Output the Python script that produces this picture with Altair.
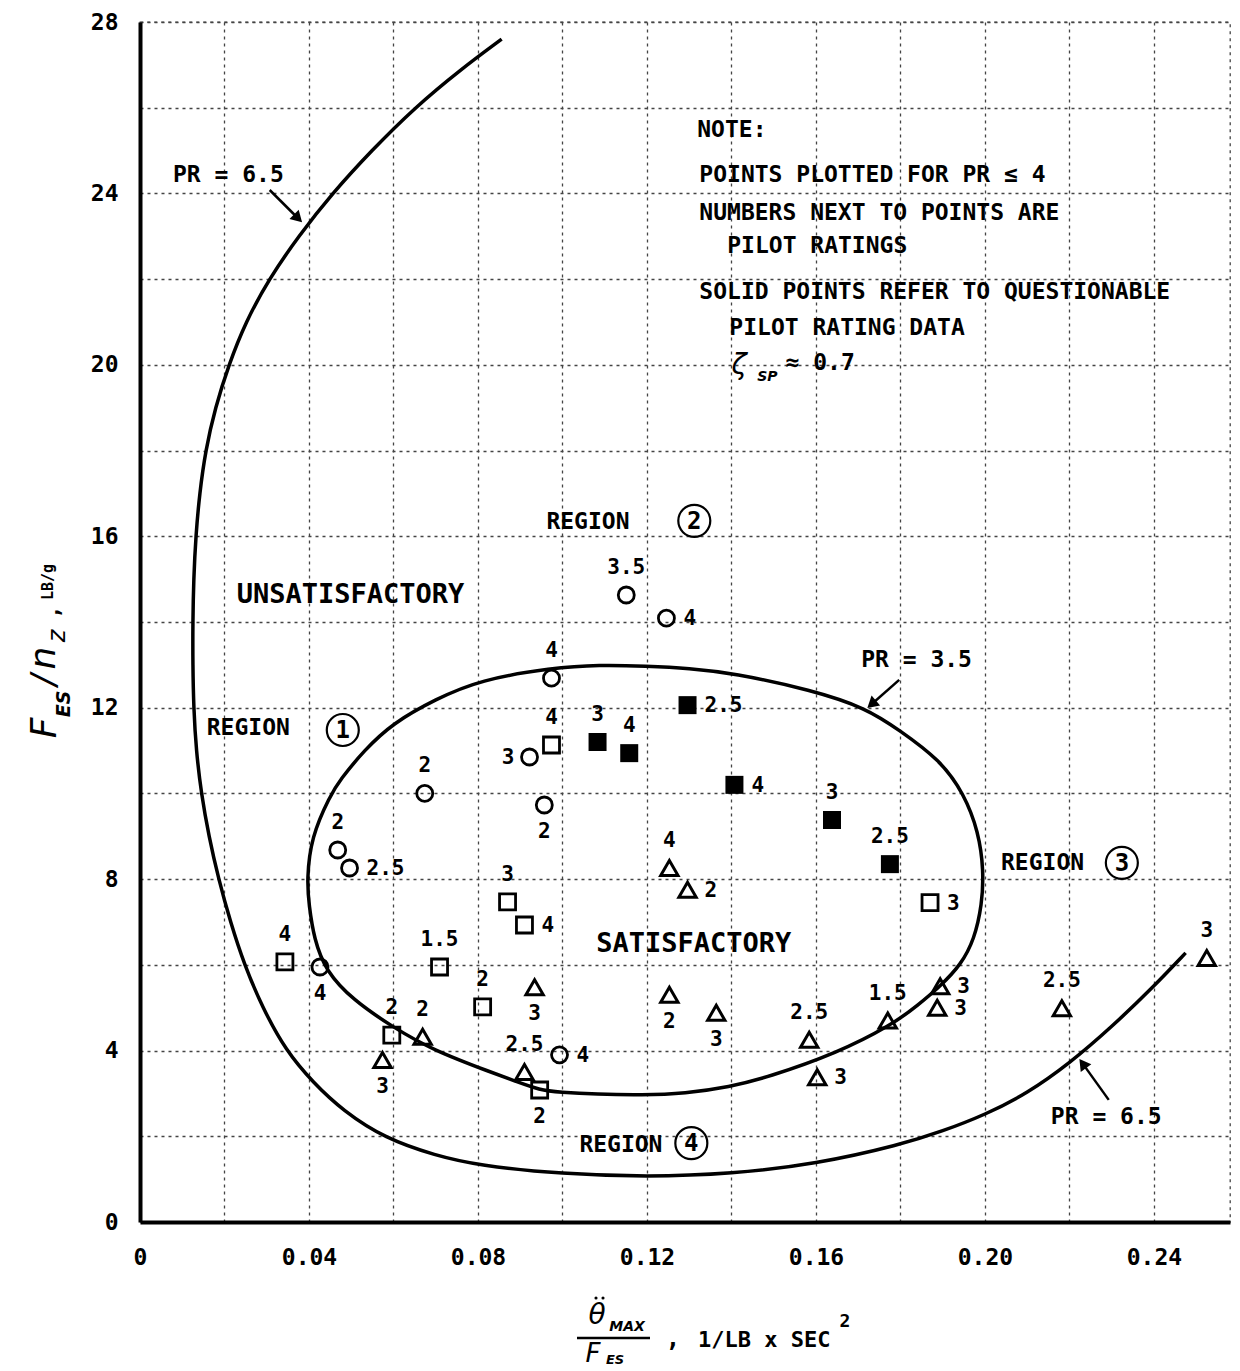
import altair as alt
import pandas as pd

MONO = "DejaVu Sans Mono"
SANS = "DejaVu Sans"

# ---------------- boundary curves ----------------
# outer boundary, PR = 6.5 (open curve, from top end to lower-right end)
outer_x = [0.0856, 0.0760, 0.0650, 0.0548, 0.0455, 0.0375, 0.0305, 0.0250, 0.0210, 0.0178,
           0.0155, 0.0141, 0.0132, 0.0127, 0.0125, 0.0125, 0.0127, 0.0133, 0.0145, 0.0163,
           0.0186, 0.0214, 0.0247, 0.0290, 0.0345, 0.0410, 0.0480, 0.0580, 0.0700, 0.0800,
           0.1000, 0.1200, 0.1400, 0.1600, 0.1800, 0.1900, 0.2000, 0.2100, 0.2200, 0.2300,
           0.2400, 0.2475]
outer_y = [27.6, 26.9, 26.0, 25.0, 24.0, 23.0, 22.0, 21.0, 20.0, 19.0,
           18.0, 17.0, 16.0, 15.0, 14.0, 13.0, 12.0, 11.0, 10.0, 9.0,
           8.0, 7.0, 6.0, 5.0, 4.0, 3.25, 2.6, 1.95, 1.55, 1.32,
           1.12, 1.05, 1.12, 1.35, 1.8, 2.12, 2.5, 3.0, 3.7, 4.55,
           5.5, 6.28]

# inner boundary, PR = 3.5 (closed curve)
inner_x = [0.0395, 0.0405, 0.0450, 0.0473, 0.0530, 0.0598, 0.0700, 0.0804, 0.0976, 0.1087,
           0.1199, 0.1300, 0.1402, 0.1591, 0.1719, 0.1797, 0.1894, 0.1950, 0.1985, 0.1997,
           0.1993, 0.1975, 0.1943, 0.1894, 0.1840, 0.1780, 0.1650, 0.1487, 0.1395, 0.1290,
           0.1189, 0.1080, 0.0993, 0.0946, 0.0890, 0.0835, 0.0693, 0.0598, 0.0504, 0.0440,
           0.0412, 0.0400]
inner_y = [7.98, 8.98, 9.95, 10.31, 11.0, 11.64, 12.2, 12.65, 12.93, 13.0,
           12.97, 12.92, 12.81, 12.41, 11.99, 11.48, 10.78, 10.0, 9.1, 8.2,
           7.4, 6.6, 6.0, 5.5, 5.05, 4.6, 3.94, 3.38, 3.15, 3.0,
           2.96, 2.98, 3.03, 3.08, 3.28, 3.48, 4.01, 4.55, 5.18, 5.85,
           6.6, 7.4]

# ---------------- data points ----------------
circ_x = [0.0468, 0.0496, 0.0674, 0.0922, 0.0957, 0.0974, 0.1151, 0.1246, 0.0426, 0.0993]
circ_y = [8.68, 8.26, 10.0, 10.85, 9.73, 12.69, 14.63, 14.09, 5.95, 3.90]
circ_pr = ["2", "2.5", "2", "3", "2", "4", "3.5", "4", "4", "4"]
circ_side = ["above", "right", "above", "left", "below", "above", "above", "right", "below", "right"]

sq_x = [0.0343, 0.0709, 0.0596, 0.0811, 0.0870, 0.0910, 0.0974, 0.0946, 0.1870]
sq_y = [6.07, 5.95, 4.36, 5.02, 7.47, 6.93, 11.13, 3.08, 7.45]
sq_pr = ["4", "1.5", "2", "2", "3", "4", "4", "2", "3"]
sq_side = ["above", "above", "above", "above", "above", "right", "above", "below", "right"]

sqf_x = [0.1083, 0.1158, 0.1296, 0.1407, 0.1638, 0.1775]
sqf_y = [11.2, 10.94, 12.06, 10.2, 9.38, 8.35]
sqf_pr = ["3", "4", "2.5", "4", "3", "2.5"]
sqf_side = ["above", "above", "right", "right", "above", "above"]

tri_x = [0.0574, 0.0669, 0.0934, 0.0910, 0.1253, 0.1296, 0.1253, 0.1364, 0.1584, 0.1603,
         0.1770, 0.1894, 0.1887, 0.2182, 0.2525]
tri_y = [3.78, 4.32, 5.48, 3.50, 8.26, 7.75, 5.30, 4.88, 4.25, 3.38,
         4.70, 5.50, 5.00, 4.99, 6.16]
tri_pr = ["3", "2", "3", "2.5", "4", "2", "2", "3", "2.5", "3",
          "1.5", "3", "3", "2.5", "3"]
tri_side = ["below", "above", "below", "above", "above", "right", "below", "below", "above", "right",
            "above", "right", "right", "above", "above"]

# ---------------- annotations ----------------
note_text = ["NOTE:", "POINTS PLOTTED FOR PR \u2264 4", "NUMBERS NEXT TO POINTS ARE",
             "PILOT RATINGS", "SOLID POINTS REFER TO QUESTIONABLE", "PILOT RATING DATA"]
note_x = [0.1319, 0.1324, 0.1324, 0.1390, 0.1324, 0.1395]
note_y = [25.48, 24.43, 23.54, 22.77, 21.70, 20.86]

region_word_x = [0.0158, 0.0962, 0.2038, 0.1040]
region_word_y = [11.53, 16.33, 8.38, 1.80]
region_num = ["1", "2", "3", "4"]
region_num_x = [0.0480, 0.1312, 0.2324, 0.1305]
region_num_y = [11.48, 16.36, 8.38, 1.84]

big_text = ["UNSATISFACTORY", "SATISFACTORY"]
big_x = [0.0229, 0.1080]
big_y = [14.63, 6.49]

pr_text = ["PR = 6.5", "PR = 3.5", "PR = 6.5"]
pr_x = [0.0078, 0.1707, 0.2156]
pr_y = [24.43, 13.11, 2.45]

arrow_tail_x = [0.0307, 0.1797, 0.2293]
arrow_tail_y = [24.08, 12.65, 2.85]
arrow_head_x = [0.0371, 0.1735, 0.2234]
arrow_head_y = [23.45, 12.11, 3.66]
arrow_angle = [135, 229, 324]

XMAX = 0.258
x_scale = alt.Scale(domain=[0, XMAX], nice=False, zero=False)
y_scale = alt.Scale(domain=[0, 28], nice=False, zero=False)
x_ticks = [round(0.02 * i, 2) for i in range(13)]
y_ticks = list(range(0, 29, 2))

x_axis = alt.Axis(
    title=None, values=x_ticks, grid=True, ticks=False, labelFlush=False, labelOverlap=False,
    labelPadding=24,
    labelExpr="datum.value < 1e-9 ? '0' : (round(datum.value*100) % 4 == 0 ? format(datum.value, '.2f') : '')",
)
y_axis = alt.Axis(
    title=None, values=y_ticks, grid=True, ticks=False, labelOverlap=False, labelPadding=22,
    labelExpr="datum.value % 4 == 0 ? datum.label : ''",
)

# ---------------- build layers ----------------
outer_df = pd.DataFrame({"x": outer_x, "y": outer_y, "i": range(len(outer_x))})
inner_df = pd.DataFrame({"x": inner_x, "y": inner_y, "i": range(len(inner_x))})

outer = alt.Chart(outer_df).mark_line(
    interpolate="basis", color="black", strokeWidth=3.5
).encode(
    x=alt.X("x:Q", scale=x_scale, axis=x_axis),
    y=alt.Y("y:Q", scale=y_scale, axis=y_axis),
    order="i:Q",
)
inner = alt.Chart(inner_df).mark_line(
    interpolate="basis-closed", color="black", strokeWidth=3.5
).encode(x="x:Q", y="y:Q", order="i:Q")


def pts(xs, ys, prs, sides, kind):
    return pd.DataFrame({"x": xs, "y": ys, "pr": prs, "side": sides, "kind": kind})


circ_df = pts(circ_x, circ_y, circ_pr, circ_side, "circle")
sq_df = pts(sq_x, sq_y, sq_pr, sq_side, "square")
sqf_df = pts(sqf_x, sqf_y, sqf_pr, sqf_side, "solid")
tri_df = pts(tri_x, tri_y, tri_pr, tri_side, "triangle")
all_pts = pd.concat([circ_df, sq_df, sqf_df, tri_df], ignore_index=True)

circles = alt.Chart(circ_df).mark_point(
    shape="circle", filled=False, size=256, strokeWidth=2.8, color="black", opacity=1
).encode(x="x:Q", y="y:Q")
squares = alt.Chart(sq_df).mark_point(
    shape="square", filled=False, size=256, strokeWidth=2.8, color="black", opacity=1
).encode(x="x:Q", y="y:Q")
solids = alt.Chart(sqf_df).mark_point(
    shape="square", filled=True, size=324, color="black", opacity=1
).encode(x="x:Q", y="y:Q")
triangles = alt.Chart(tri_df).mark_point(
    shape="triangle-up", filled=False, size=300, strokeWidth=3, color="black", opacity=1
).encode(x="x:Q", y="y:Q")

label_specs = {
    "above": dict(align="center", baseline="middle", dx=0, dy=-27),
    "below": dict(align="center", baseline="middle", dx=0, dy=27),
    "right": dict(align="left", baseline="middle", dx=17, dy=1),
    "left": dict(align="right", baseline="middle", dx=-15, dy=1),
}
label_layers = []
for side, spec in label_specs.items():
    label_layers.append(
        alt.Chart(all_pts).transform_filter(alt.datum.side == side).mark_text(
            font=MONO, fontWeight="bold", fontSize=21, color="black", **spec
        ).encode(x="x:Q", y="y:Q", text="pr:N")
    )

notes = alt.Chart(pd.DataFrame({"x": note_x, "y": note_y, "t": note_text})).mark_text(
    font=MONO, fontWeight="bold", fontSize=23, align="left", baseline="middle", color="black"
).encode(x="x:Q", y="y:Q", text="t:N")

zeta = alt.Chart(pd.DataFrame({"x": [0.1418], "y": [19.97], "t": ["\u03b6"]})).mark_text(
    font=SANS, fontStyle="italic", fontSize=28, align="center", baseline="middle", color="black"
).encode(x="x:Q", y="y:Q", text="t:N")
zeta_sub = alt.Chart(pd.DataFrame({"x": [0.1485], "y": [19.72], "t": ["SP"]})).mark_text(
    font=SANS, fontStyle="italic", fontWeight="bold", fontSize=14, align="center", baseline="middle", color="black"
).encode(x="x:Q", y="y:Q", text="t:N")
zeta_val = alt.Chart(pd.DataFrame({"x": [0.1528], "y": [20.05], "t": ["\u2248 0.7"]})).mark_text(
    font=MONO, fontWeight="bold", fontSize=23, align="left", baseline="middle", color="black"
).encode(x="x:Q", y="y:Q", text="t:N")

region_words = alt.Chart(pd.DataFrame({"x": region_word_x, "y": region_word_y})).mark_text(
    font=MONO, fontWeight="bold", fontSize=23, align="left", baseline="middle", color="black",
    text="REGION",
).encode(x="x:Q", y="y:Q")
region_df = pd.DataFrame({"x": region_num_x, "y": region_num_y, "t": region_num})
region_rings = alt.Chart(region_df).mark_point(
    shape="circle", filled=False, size=1024, strokeWidth=2.2, color="black", opacity=1
).encode(x="x:Q", y="y:Q")
region_digits = alt.Chart(region_df).mark_text(
    font=MONO, fontWeight="bold", fontSize=24, align="center", baseline="middle", color="black", dy=1
).encode(x="x:Q", y="y:Q", text="t:N")

bigs = alt.Chart(pd.DataFrame({"x": big_x, "y": big_y, "t": big_text})).mark_text(
    font=MONO, fontWeight="bold", fontSize=27, align="left", baseline="middle", color="black"
).encode(x="x:Q", y="y:Q", text="t:N")

prs = alt.Chart(pd.DataFrame({"x": pr_x, "y": pr_y, "t": pr_text})).mark_text(
    font=MONO, fontWeight="bold", fontSize=23, align="left", baseline="middle", color="black"
).encode(x="x:Q", y="y:Q", text="t:N")

arrow_df = pd.DataFrame({"x": arrow_tail_x, "y": arrow_tail_y, "x2": arrow_head_x,
                         "y2": arrow_head_y, "ang": arrow_angle})
arrow_lines = alt.Chart(arrow_df).mark_rule(color="black", strokeWidth=2.5).encode(
    x="x:Q", y="y:Q", x2="x2:Q", y2="y2:Q"
)
arrow_heads = alt.Chart(arrow_df).mark_point(
    shape="triangle", filled=True, size=170, color="black", opacity=1
).encode(x="x2:Q", y="y2:Q", angle=alt.Angle("ang:Q", scale=None))


# ---------------- axis titles (pixel positions relative to plot origin) ----------------
def ptxt(t, px, py, size, font=SANS, style="normal", weight="normal", angle=0, align="center"):
    return alt.Chart(pd.DataFrame({"t": [t]})).mark_text(
        font=font, fontSize=size, fontStyle=style, fontWeight=weight, angle=angle,
        align=align, baseline="middle", color="black",
    ).encode(x=alt.value(px), y=alt.value(py), text="t:N")


def pdot(px, py):
    return alt.Chart(pd.DataFrame({"a": [0]})).mark_point(
        shape="circle", filled=True, size=10, color="black", opacity=1
    ).encode(x=alt.value(px), y=alt.value(py))


xt = [
    ptxt("\u03b8", 457, 1294, 28, style="italic"),
    pdot(456, 1276),
    pdot(463, 1276),
    ptxt("MAX", 487, 1305, 14, style="italic", weight="bold"),
    ptxt("F", 453, 1332, 26, style="italic"),
    ptxt("ES", 475, 1338, 13, style="italic", weight="bold"),
    ptxt(",", 533, 1318, 24, font=MONO, weight="bold"),
    ptxt("1/LB x SEC", 558, 1318, 22, font=MONO, weight="bold", align="left"),
    ptxt("2", 705, 1300, 18, font=MONO, weight="bold"),
]
frac_bar = alt.Chart(pd.DataFrame({"a": [0]})).mark_rule(color="black", strokeWidth=2.5).encode(
    x=alt.value(437), x2=alt.value(510), y=alt.value(1316)
)

yt = [
    ptxt("F", -95, 706, 36, style="italic", angle=270),
    ptxt("ES", -76, 682, 19, style="italic", weight="bold", angle=270),
    ptxt("/", -95, 658, 34, style="italic", angle=270),
    ptxt("n", -96, 636, 36, style="italic", angle=270),
    ptxt("z", -82, 614, 24, style="italic", angle=270),
    ptxt(",", -88, 590, 22, font=MONO, weight="bold", angle=270),
    ptxt("LB/g", -92, 560, 15, font=MONO, weight="bold", angle=270),
]

layers = [outer, inner, circles, squares, solids, triangles] + label_layers + [
    notes, zeta, zeta_sub, zeta_val, region_words, region_rings, region_digits,
    bigs, prs, arrow_lines, arrow_heads, frac_bar,
] + xt + yt

chart = alt.layer(*layers).properties(
    width=1090,
    height=1200,
    padding={"left": 132, "top": 14, "right": 2, "bottom": 148},
    autosize=alt.AutoSizeParams(type="none"),
).configure_view(
    stroke="#444", strokeDash=[3, 4], strokeWidth=1.3
).configure_axis(
    domainColor="black", domainWidth=4,
    gridColor="#444", gridDash=[3, 4], gridWidth=1.3, gridOpacity=1,
    labelFont=MONO, labelFontWeight="bold", labelFontSize=23, labelColor="black",
)

chart.save("out.html", embed_options={"renderer": "svg", "actions": False})
